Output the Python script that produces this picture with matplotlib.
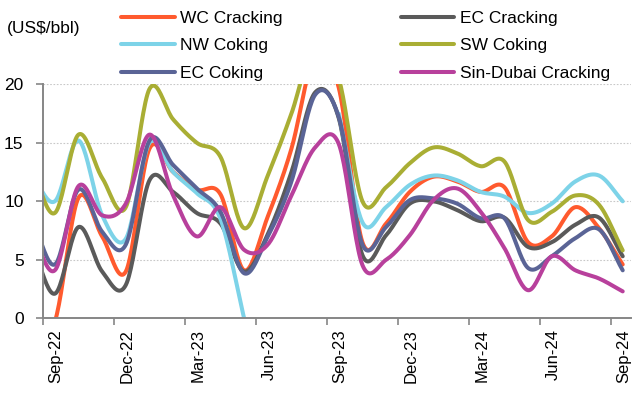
import numpy as np
import matplotlib
matplotlib.use("Agg")
import matplotlib.pyplot as plt
from matplotlib.ticker import FixedLocator, NullFormatter

plt.rcParams['font.family'] = ['Liberation Sans', 'DejaVu Sans']

#
# Data (monthly, mid-month points; Aug-22 only shapes the curve at the left edge)
#
months = ['Aug-22', 'Sep-22', 'Oct-22', 'Nov-22', 'Dec-22', 'Jan-23', 'Feb-23', 'Mar-23',
          'Apr-23', 'May-23', 'Jun-23', 'Jul-23', 'Aug-23', 'Sep-23', 'Oct-23', 'Nov-23',
          'Dec-23', 'Jan-24', 'Feb-24', 'Mar-24', 'Apr-24', 'May-24', 'Jun-24', 'Jul-24',
          'Aug-24', 'Sep-24']

wc_cracking = [-2.0, -0.3, 10.3, 7.0, 4.0, 14.5, 12.5, 11.0, 10.6, 4.1, 8.7, 14.5, 22.5,
               19.7, 6.5, 8.1, 10.8, 12.1, 11.7, 10.8, 11.2, 6.5, 7.0, 9.5, 7.7, 4.6]
ec_cracking = [6.6, 2.1, 7.8, 4.0, 2.85, 11.8, 10.8, 9.0, 8.1, 4.0, 7.2, 12.5, 19.3,
               17.1, 5.4, 7.1, 9.8, 10.0, 9.25, 8.3, 8.6, 6.1, 6.5, 8.0, 8.6, 5.3]
nw_coking = [12.4, 10.0, 15.2, 8.8, 6.8, 15.0, 12.5, 10.7, 8.5, 0.0, np.nan, np.nan, np.nan,
             17.5, 8.2, 9.5, 11.4, 12.2, 11.8, 10.8, 10.4, 9.0, 9.8, 11.7, 12.2, 10.0]
sw_coking = [13.0, 9.0, 15.7, 12.0, 9.5, 19.6, 17.0, 15.0, 13.8, 7.7, 12.2, 17.5, 23.5,
             20.5, 10.0, 11.2, 13.25, 14.6, 14.1, 13.0, 13.4, 8.4, 9.1, 10.5, 9.7, 5.8]
ec_coking = [8.8, 4.6, 11.0, 7.4, 6.3, 15.2, 13.1, 11.1, 9.1, 3.85, 7.0, 11.7, 19.1,
             17.2, 6.3, 7.8, 10.1, 10.25, 9.8, 8.55, 8.55, 4.3, 5.3, 6.85, 7.6, 4.1]
sin_dubai = [7.6, 4.1, 11.3, 8.8, 9.8, 15.7, 10.5, 7.0, 9.5, 5.85, 6.3, 10.5, 14.6,
             14.9, 4.55, 5.0, 7.1, 10.1, 11.1, 9.1, 6.0, 2.4, 5.3, 4.1, 3.4, 2.3]

tick_labels = ['Sep-22', 'Dec-22', 'Mar-23', 'Jun-23', 'Sep-23', 'Dec-23', 'Mar-24',
               'Jun-24', 'Sep-24']

series = [
    ("WC Cracking", wc_cracking, "#FF5A2E"),
    ("EC Cracking", ec_cracking, "#5A5A5A"),
    ("NW Coking", nw_coking, "#7DD3E8"),
    ("SW Coking", sw_coking, "#A9AE34"),
    ("EC Coking", ec_coking, "#5A6496"),
    ("Sin-Dubai Cracking", sin_dubai, "#B8409C"),
]


def smooth(x, y, n=24):
    # Catmull-Rom style smoothing (like Excel "smoothed line"), breaks at gaps
    x = np.asarray(x, float)
    y = np.asarray(y, float)
    ok = ~np.isnan(y)
    out_x, out_y = [], []
    i = 0
    while i < len(y):
        if not ok[i]:
            i += 1
            continue
        j = i
        while j < len(y) and ok[j]:
            j += 1
        px, py = x[i:j], y[i:j]
        if len(px) > 1:
            mx, my = np.gradient(px), np.gradient(py)
            t = np.linspace(0, 1, n)
            h00 = 2 * t**3 - 3 * t**2 + 1
            h10 = t**3 - 2 * t**2 + t
            h01 = -2 * t**3 + 3 * t**2
            h11 = t**3 - t**2
            for k in range(len(px) - 1):
                out_x.extend(h00 * px[k] + h10 * mx[k] + h01 * px[k + 1] + h11 * mx[k + 1])
                out_y.extend(h00 * py[k] + h10 * my[k] + h01 * py[k + 1] + h11 * my[k + 1])
            out_x.append(np.nan)
            out_y.append(np.nan)
        i = j
    return np.array(out_x), np.array(out_y)


# month index 0 = start of Sep-22, points sit mid-month
xpos = np.arange(len(months)) - 0.5

fig = plt.figure(figsize=(6.33, 3.94), dpi=100)
ax = fig.add_axes([43 / 633, 1 - 318.3 / 394, 588 / 633, 234 / 394])

lines = {}
for name, vals, color in series:
    sx, sy = smooth(xpos, vals)
    ln, = ax.plot(sx, sy, color=color, lw=2.9, solid_capstyle='round', label=name)
    lines[name] = ln

ax.set_xlim(0, 24.85)
ax.set_ylim(0, 20)

ax.set_yticks([0, 5, 10, 15, 20])
ax.yaxis.grid(True, color="#C8C8C8", linestyle=(0, (1.5, 1.5)), lw=0.8)
ax.set_axisbelow(True)

ax.xaxis.set_major_locator(FixedLocator(np.arange(0, 25, 3)))
ax.xaxis.set_major_formatter(NullFormatter())
ax.xaxis.set_minor_locator(FixedLocator(np.arange(0, 25, 3) + 0.55))
ax.set_xticklabels(tick_labels, minor=True, rotation=90, fontsize=12, va='top', ha='center')
ax.tick_params(axis='x', which='major', length=5, color='#868686', width=1.2)
ax.tick_params(axis='x', which='minor', length=0, pad=8)
ax.tick_params(axis='y', length=5, color='#868686', width=1.2, pad=9, labelsize=12.5)

for s in ['top', 'right']:
    ax.spines[s].set_visible(False)
for s in ['left', 'bottom']:
    ax.spines[s].set_color('#868686')
    ax.spines[s].set_linewidth(1.4)

fig.text(7 / 633, 1 - 28 / 394, "(US$/bbl)", fontsize=12.5, va='center', ha='left')

order = ["WC Cracking", "NW Coking", "EC Coking", "EC Cracking", "SW Coking", "Sin-Dubai Cracking"]
fig.legend([lines[k] for k in order], order, ncol=2, loc='upper left',
           bbox_to_anchor=(121 / 633, 1 - 10.5 / 394), frameon=False, fontsize=12.5,
           handlelength=3.1, handletextpad=0.3, columnspacing=6.8, labelspacing=0.72,
           borderpad=0, borderaxespad=0)

fig.savefig("out.png", dpi=100)
